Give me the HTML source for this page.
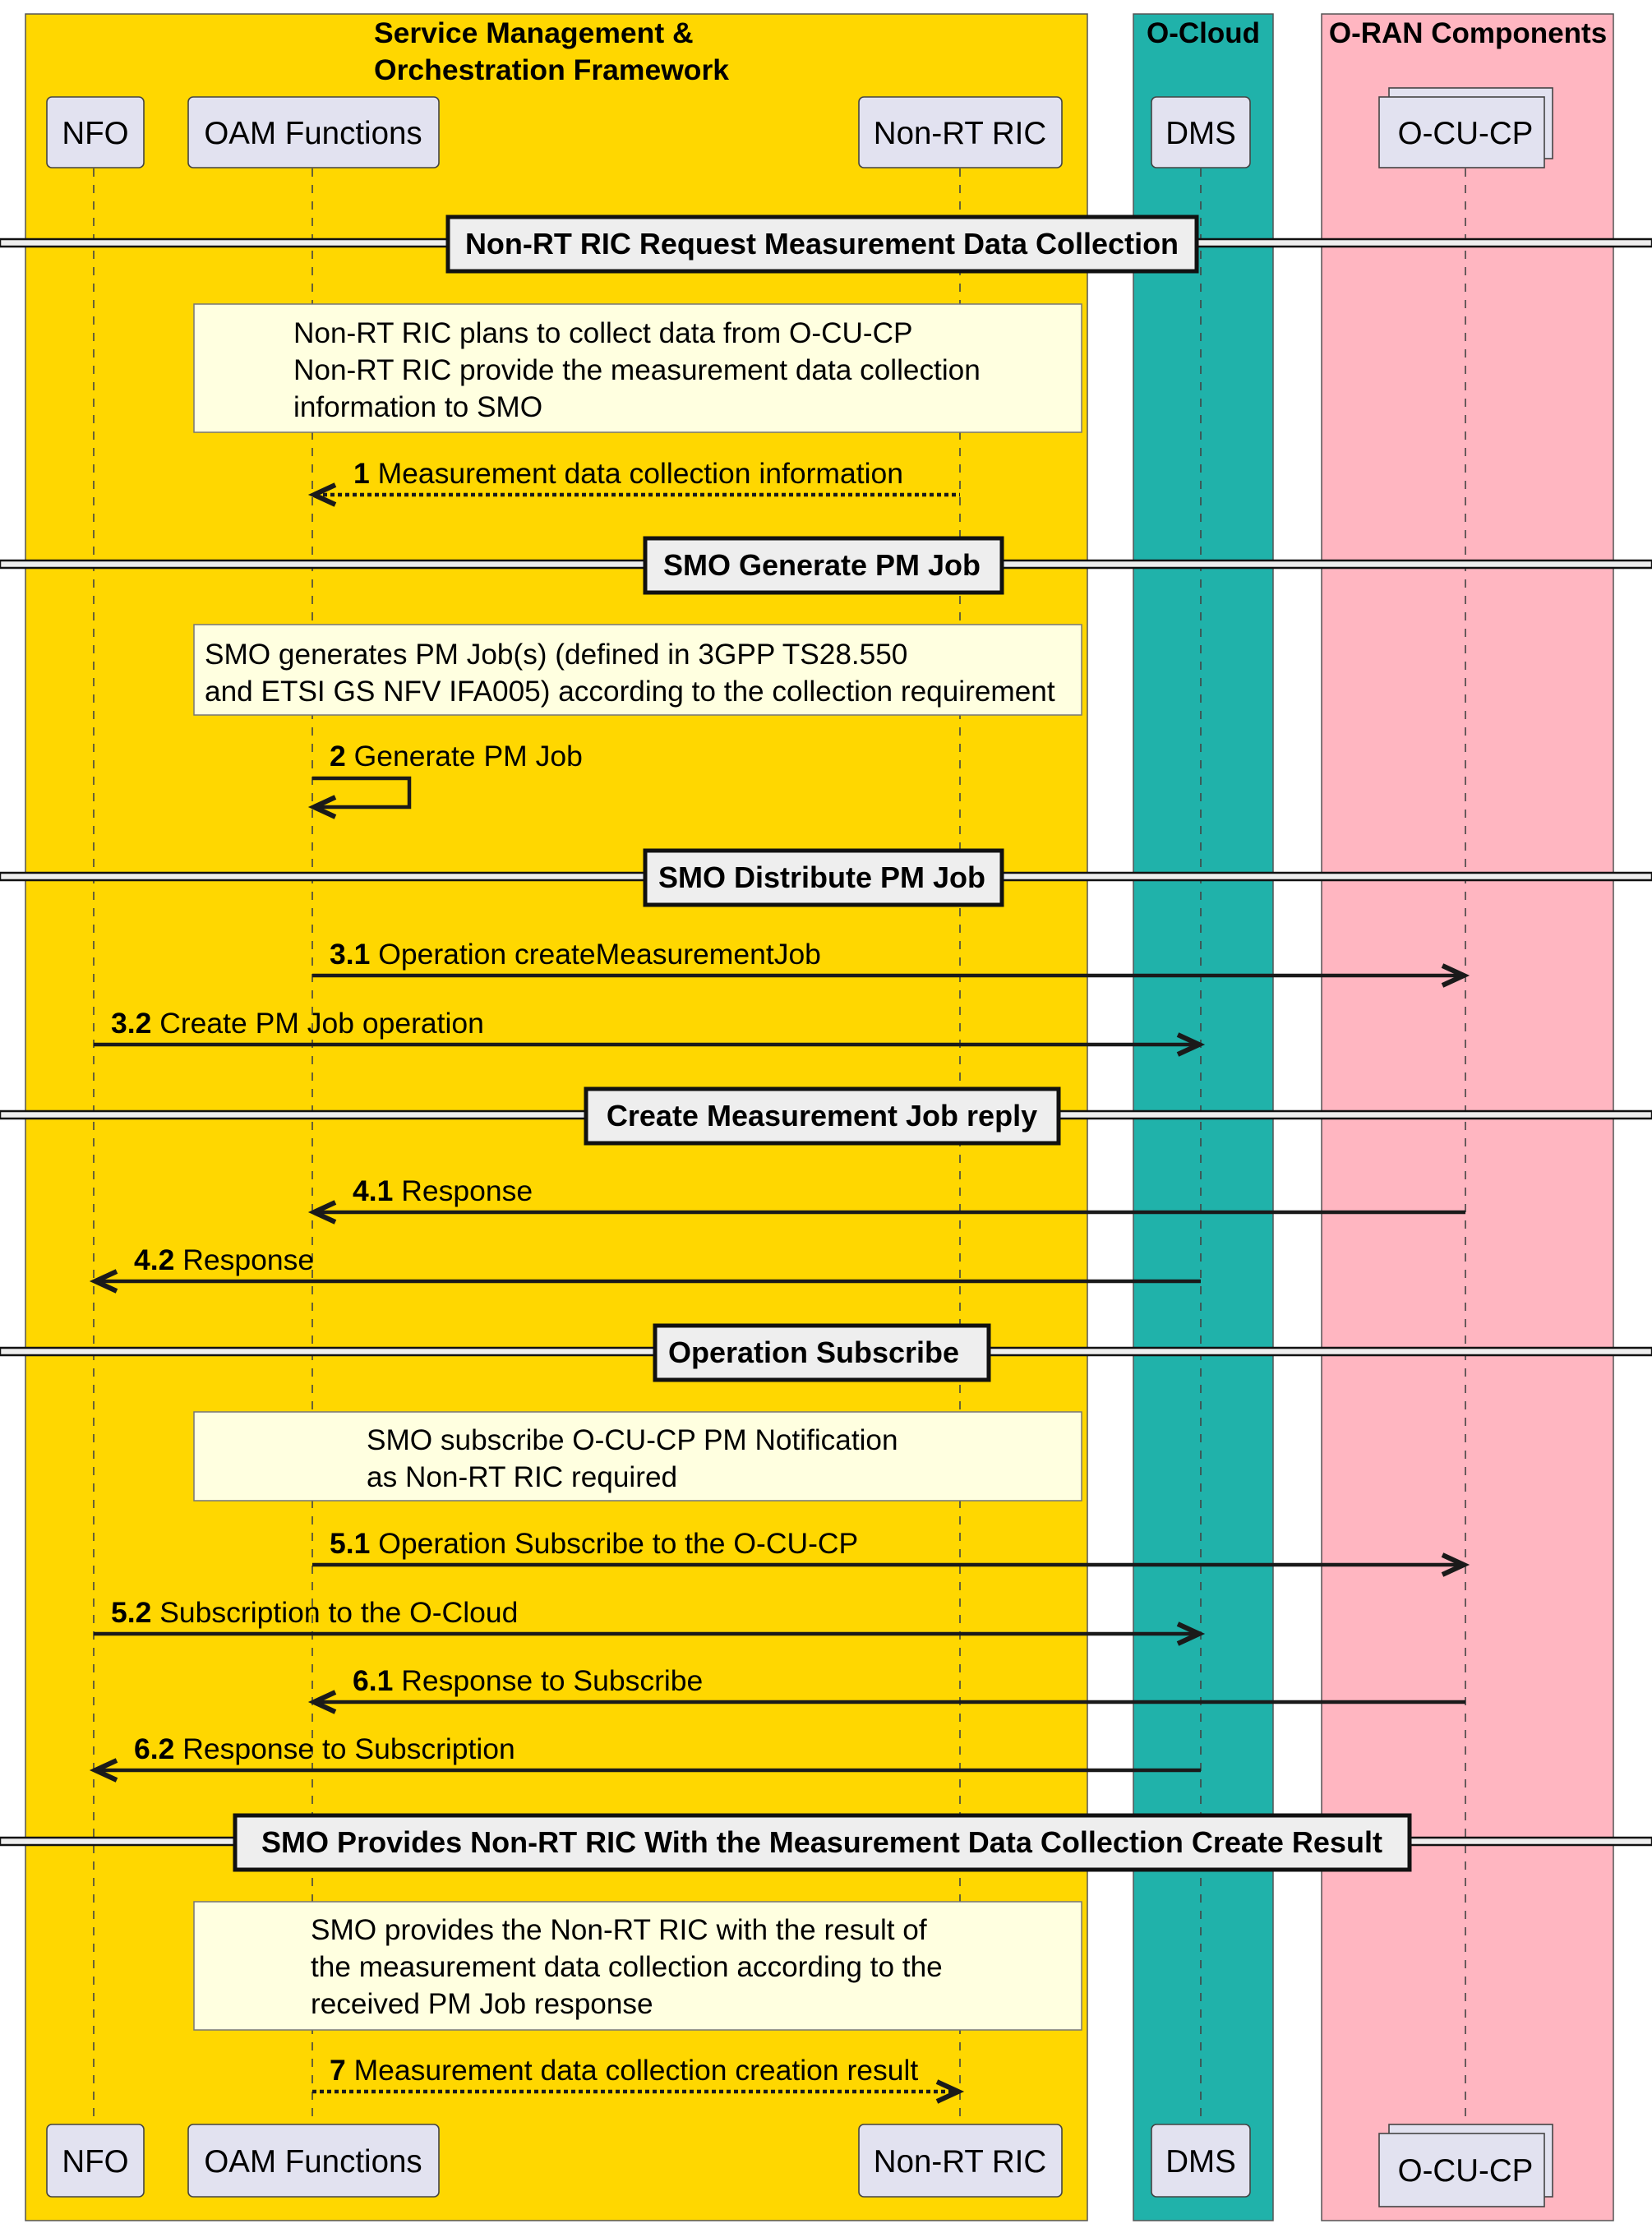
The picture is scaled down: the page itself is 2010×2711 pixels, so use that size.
<!DOCTYPE html>
<html><head><meta charset="utf-8"><style>
html,body{margin:0;padding:0;background:#fff;}
svg{display:block;}
text{font-family:"Liberation Sans",Arial,sans-serif;fill:#000;}
.b{font-weight:bold;}
</style></head><body>
<svg width="2010" height="2711" viewBox="0 0 2010 2711" xmlns="http://www.w3.org/2000/svg">
<defs>
<g id="ah"><polyline points="26,-12 0,0 26,12" fill="none" stroke="#1a1a1a" stroke-width="6" stroke-linejoin="miter"/></g>
</defs>
<rect x="31" y="17" width="1292" height="2685" fill="#FFD700" stroke="#555" stroke-width="1.5"/>
<rect x="1379" y="17" width="170" height="2685" fill="#20B2AA" stroke="#555" stroke-width="1.5"/>
<rect x="1608" y="17" width="355" height="2685" fill="#FFB6C1" stroke="#555" stroke-width="1.5"/>
<text x="455" y="52" class="b" font-size="35.5">Service Management &amp;</text>
<text x="455" y="97" class="b" font-size="35.5">Orchestration Framework</text>
<text x="1464" y="52" class="b" font-size="35" text-anchor="middle">O-Cloud</text>
<text x="1786" y="52" class="b" font-size="35" text-anchor="middle">O-RAN Components</text>
<g stroke="#444" stroke-width="1.6" stroke-dasharray="10,10">
<line x1="114" y1="205" x2="114" y2="2590"/>
<line x1="380" y1="205" x2="380" y2="2590"/>
<line x1="1168" y1="205" x2="1168" y2="2590"/>
<line x1="1461" y1="205" x2="1461" y2="2590"/>
<line x1="1783" y1="205" x2="1783" y2="2590"/>
</g>
<g fill="#E2E2F0" stroke="#444" stroke-width="1.6">
<rect x="57" y="118" width="118" height="86" rx="6"/>
<rect x="229" y="118" width="305" height="86" rx="6"/>
<rect x="1045" y="118" width="247" height="86" rx="6"/>
<rect x="1401" y="118" width="120" height="86" rx="6"/>
<rect x="1690" y="107" width="199" height="86"/>
<rect x="1678" y="118" width="201" height="86"/>
<rect x="57" y="2585" width="118" height="88" rx="6"/>
<rect x="229" y="2585" width="305" height="88" rx="6"/>
<rect x="1045" y="2585" width="247" height="88" rx="6"/>
<rect x="1401" y="2585" width="120" height="88" rx="6"/>
<rect x="1690" y="2585" width="199" height="88"/>
<rect x="1678" y="2596" width="201" height="89"/>
</g>
<g text-anchor="middle" font-size="38.5">
<text x="116" y="175">NFO</text>
<text x="381" y="175">OAM Functions</text>
<text x="1168" y="175">Non-RT RIC</text>
<text x="1461" y="175">DMS</text>
<text x="1783" y="175">O-CU-CP</text>
<text x="116" y="2643">NFO</text>
<text x="381" y="2643">OAM Functions</text>
<text x="1168" y="2643">Non-RT RIC</text>
<text x="1461" y="2643">DMS</text>
<text x="1783" y="2654">O-CU-CP</text>
</g>
<g font-size="36" class="b" text-anchor="middle">
<g><rect x="0" y="291" width="2010" height="9" fill="#eee" stroke="#111" stroke-width="2.5"/><rect x="545" y="264" width="911" height="66" fill="#eee" stroke="#111" stroke-width="5"/><text x="1000" y="309">Non-RT RIC Request Measurement Data Collection</text></g>
<g><rect x="0" y="682" width="2010" height="9" fill="#eee" stroke="#111" stroke-width="2.5"/><rect x="785" y="655" width="434" height="66" fill="#eee" stroke="#111" stroke-width="5"/><text x="1000" y="700">SMO Generate PM Job</text></g>
<g><rect x="0" y="1062" width="2010" height="9" fill="#eee" stroke="#111" stroke-width="2.5"/><rect x="785" y="1035" width="434" height="66" fill="#eee" stroke="#111" stroke-width="5"/><text x="1000" y="1080">SMO Distribute PM Job</text></g>
<g><rect x="0" y="1352" width="2010" height="9" fill="#eee" stroke="#111" stroke-width="2.5"/><rect x="713" y="1325" width="575" height="66" fill="#eee" stroke="#111" stroke-width="5"/><text x="1000" y="1370">Create Measurement Job reply</text></g>
<g><rect x="0" y="1640" width="2010" height="9" fill="#eee" stroke="#111" stroke-width="2.5"/><rect x="797" y="1613" width="406" height="66" fill="#eee" stroke="#111" stroke-width="5"/><text x="990" y="1658">Operation Subscribe</text></g>
<g><rect x="0" y="2236" width="2010" height="9" fill="#eee" stroke="#111" stroke-width="2.5"/><rect x="286" y="2209" width="1429" height="66" fill="#eee" stroke="#111" stroke-width="5"/><text x="1000" y="2254">SMO Provides Non-RT RIC With the Measurement Data Collection Create Result</text></g>
</g>
<g fill="#FFFFE0" stroke="#777" stroke-width="1.5">
<rect x="236" y="370" width="1080" height="156"/>
<rect x="236" y="760" width="1080" height="110"/>
<rect x="236" y="1718" width="1080" height="108"/>
<rect x="236" y="2314" width="1080" height="156"/>
</g>
<g font-size="35.2">
<text x="357" y="417">Non-RT RIC plans to collect data from O-CU-CP</text>
<text x="357" y="462">Non-RT RIC provide the measurement data collection</text>
<text x="357" y="507">information to SMO</text>
<text x="249" y="808">SMO generates PM Job(s) (defined in 3GPP TS28.550</text>
<text x="249" y="853">and ETSI GS NFV IFA005) according to the collection requirement</text>
<text x="446" y="1764">SMO subscribe O-CU-CP PM Notification</text>
<text x="446" y="1809">as Non-RT RIC required</text>
<text x="378" y="2360">SMO provides the Non-RT RIC with the result of</text>
<text x="378" y="2405">the measurement data collection according to the</text>
<text x="378" y="2450">received PM Job response</text>
</g>
<g stroke="#1a1a1a" stroke-width="4.5" fill="none">
<line x1="384" y1="602" x2="1168" y2="602" stroke-dasharray="5,4"/>
<polyline points="380,947 498,947 498,982 384,982"/>
<line x1="380" y1="1187" x2="1778" y2="1187"/>
<line x1="114" y1="1271" x2="1456" y2="1271"/>
<line x1="384" y1="1475" x2="1783" y2="1475"/>
<line x1="118" y1="1559" x2="1461" y2="1559"/>
<line x1="380" y1="1904" x2="1778" y2="1904"/>
<line x1="114" y1="1988" x2="1456" y2="1988"/>
<line x1="384" y1="2071" x2="1783" y2="2071"/>
<line x1="118" y1="2154" x2="1461" y2="2154"/>
<line x1="380" y1="2545" x2="1164" y2="2545" stroke-dasharray="5,4"/>
</g>
<use href="#ah" transform="translate(382,602)"/>
<use href="#ah" transform="translate(382,982)"/>
<use href="#ah" transform="translate(1781,1187) scale(-1,1)"/>
<use href="#ah" transform="translate(1459,1271) scale(-1,1)"/>
<use href="#ah" transform="translate(382,1475)"/>
<use href="#ah" transform="translate(116,1559)"/>
<use href="#ah" transform="translate(1781,1904) scale(-1,1)"/>
<use href="#ah" transform="translate(1459,1988) scale(-1,1)"/>
<use href="#ah" transform="translate(382,2071)"/>
<use href="#ah" transform="translate(116,2154)"/>
<use href="#ah" transform="translate(1166,2545) scale(-1,1)"/>
<g font-size="35.5">
<text x="430" y="588"><tspan font-weight="bold">1</tspan> Measurement data collection information</text>
<text x="401" y="932"><tspan font-weight="bold">2</tspan> Generate PM Job</text>
<text x="401" y="1173"><tspan font-weight="bold">3.1</tspan> Operation createMeasurementJob</text>
<text x="135" y="1257"><tspan font-weight="bold">3.2</tspan> Create PM Job operation</text>
<text x="429" y="1461"><tspan font-weight="bold">4.1</tspan> Response</text>
<text x="163" y="1545"><tspan font-weight="bold">4.2</tspan> Response</text>
<text x="401" y="1890"><tspan font-weight="bold">5.1</tspan> Operation Subscribe to the O-CU-CP</text>
<text x="135" y="1974"><tspan font-weight="bold">5.2</tspan> Subscription to the O-Cloud</text>
<text x="429" y="2057"><tspan font-weight="bold">6.1</tspan> Response to Subscribe</text>
<text x="163" y="2140"><tspan font-weight="bold">6.2</tspan> Response to Subscription</text>
<text x="401" y="2531"><tspan font-weight="bold">7</tspan> Measurement data collection creation result</text>
</g>
</svg>
</body></html>
